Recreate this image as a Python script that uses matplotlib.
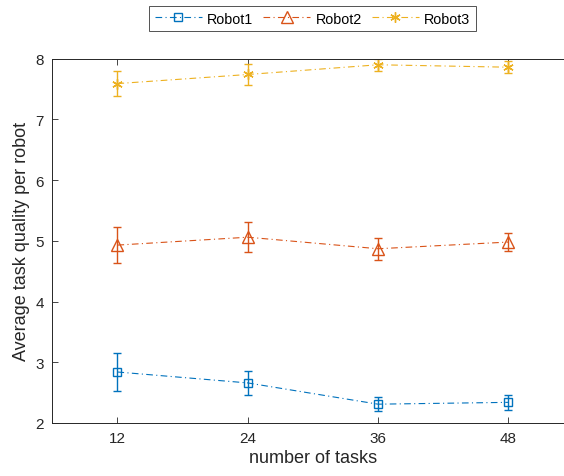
import matplotlib
matplotlib.use("Agg")
import matplotlib.pyplot as plt

plt.rcParams['font.family'] = ['Liberation Sans', 'DejaVu Sans']

tasks = [12, 24, 36, 48]
robot1 = [2.84, 2.66, 2.31, 2.34]
robot1_err = [0.31, 0.20, 0.11, 0.12]
robot2 = [4.93, 5.06, 4.87, 4.98]
robot2_err = [0.29, 0.25, 0.18, 0.15]
robot3 = [7.59, 7.74, 7.90, 7.86]
robot3_err = [0.20, 0.17, 0.10, 0.10]
labels = ['Robot1', 'Robot2', 'Robot3']
colors = ['#0072BD', '#D95319', '#EDB120']
markers = ['s', '^', (6, 2, 0)]

fig = plt.figure(figsize=(5.64, 4.77), dpi=100)
# x-range 6..54 as in the reference; axes box runs past the right edge of the image
ax = fig.add_axes([52.3/564, 53/477, (573.5-52.3)/564, (424-59.7)/477])

series = [(robot1, robot1_err), (robot2, robot2_err), (robot3, robot3_err)]
msizes = [6, 8.5, 7.5]
for (vals, errs), lab, c, m, ms in zip(series, labels, colors, markers, msizes):
    ax.errorbar(tasks, vals, yerr=errs, color=c, linestyle=(0, (6, 3, 1, 3)), lw=0.8,
                marker=m, markersize=ms, markerfacecolor='none', markeredgecolor=c,
                markeredgewidth=1.0, capsize=3, elinewidth=1.0, capthick=1.0, label=lab)

ax.set_xlim(6, 54)
ax.set_ylim(2, 8)
ax.set_xticks(tasks)
ax.set_yticks([2, 3, 4, 5, 6, 7, 8])
ax.tick_params(direction='in', top=True, right=False, length=4, width=0.6,
               labelsize=11, colors='#262626', pad=6)
for s in ['left', 'bottom', 'top']:
    ax.spines[s].set_color('#262626')
    ax.spines[s].set_linewidth(0.7)
ax.spines['right'].set_visible(False)
ax.set_xlabel('number of tasks', fontsize=13, color='#262626', labelpad=3)
ax.set_ylabel('Average task quality per robot', fontsize=13, color='#262626', labelpad=4)

handles, labs = ax.get_legend_handles_labels()
handles = [h[0] if isinstance(h, tuple) else h for h in handles]
leg = fig.legend(handles, labs, loc='center', bbox_to_anchor=(312.5/564, 1-19.5/477),
                 ncol=3, fontsize=10.3, frameon=True, fancybox=False, edgecolor='#262626',
                 handlelength=3.3, handletextpad=0.35, columnspacing=0.7, borderpad=0.4)
leg.get_frame().set_linewidth(0.7)

fig.savefig('out.png', dpi=100, facecolor='white')
